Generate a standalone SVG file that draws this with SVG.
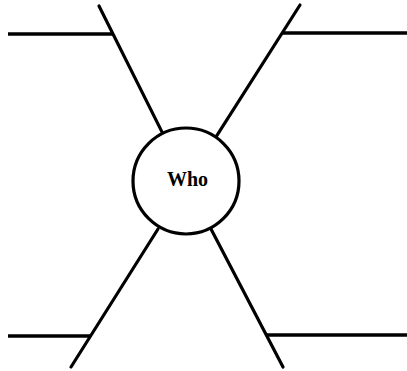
<svg xmlns="http://www.w3.org/2000/svg" width="407" height="371" viewBox="0 0 407 371">
<style>
.ln{stroke:#000;stroke-width:3.2;fill:none;stroke-linecap:round}
.hz{stroke:#000;stroke-width:3.6;fill:none;stroke-linecap:butt}
.nd{fill:#fff;stroke:#000;stroke-width:3.2}
.lb{font-family:"Liberation Serif",serif;font-weight:bold;font-size:20px;fill:#000}
</style>
<rect width="407" height="371" fill="#fff"/>
<g id="connectors">
<line class="ln" x1="99" y1="6" x2="162.7" y2="133.4"/>
<line class="hz" x1="8" y1="34" x2="113" y2="34"/>
<line class="ln" x1="300" y1="5" x2="215.7" y2="137.3"/>
<line class="hz" x1="282" y1="33" x2="407" y2="33"/>
<line class="ln" x1="71" y1="367" x2="158" y2="229"/>
<line class="hz" x1="8" y1="336" x2="91" y2="336"/>
<line class="ln" x1="283" y1="367" x2="211" y2="229"/>
<line class="hz" x1="266" y1="335" x2="407" y2="335"/>
</g>
<g id="who">
<circle class="nd" cx="186" cy="181" r="53"/>
<text class="lb" x="187.5" y="186" text-anchor="middle">Who</text>
</g>
</svg>
